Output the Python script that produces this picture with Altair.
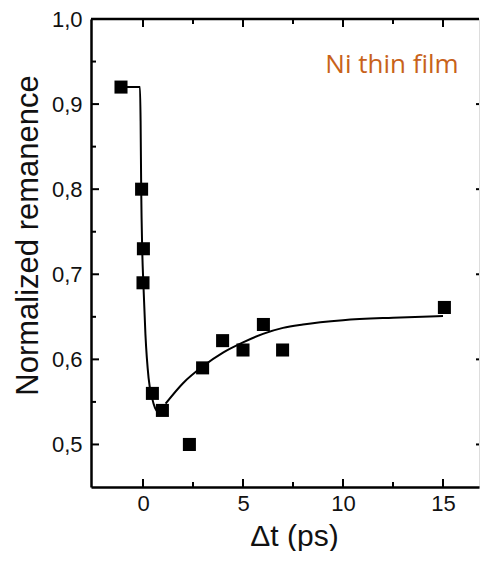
import altair as alt
import pandas as pd

# ---- data ----
pt_x = [-1.1, -0.07, 0.02, 0.0, 0.47, 0.97, 2.32, 2.98, 3.98, 5.0, 6.02, 6.98, 15.07]
pt_y = [0.92, 0.80, 0.73, 0.69, 0.56, 0.54, 0.50, 0.59, 0.622, 0.611, 0.641, 0.611, 0.661]

fit1_x = [-1.1, -0.15, -0.12, -0.09, -0.04, 0.02, 0.12, 0.28, 0.45, 0.6, 0.75, 0.85]
fit1_y = [0.92, 0.92, 0.88, 0.80, 0.73, 0.688, 0.63, 0.578, 0.555, 0.543, 0.538, 0.537]

fit2_x = [1.13, 2.0, 3.0, 4.0, 5.0, 6.0, 7.0, 8.0, 10.0, 12.5, 15.0]
fit2_y = [0.548, 0.572, 0.592, 0.608, 0.620, 0.630, 0.637, 0.641, 0.646, 0.649, 0.651]

x_domain = [-2.6, 16.8]
y_domain = [0.45, 1.0]
x_major = [0, 5, 10, 15]
x_minor = [2.5, 7.5, 12.5]
y_major = [0.5, 0.6, 0.7, 0.8, 0.9, 1.0]
y_minor = [0.55, 0.65, 0.75, 0.85, 0.95]

label_text = ["Ni thin film"]
label_x = [12.45]
label_y = [0.937]

W, H = 388, 468
TOP = 11
MAJ, MIN = 8, 5
FONT = "Liberation Sans"

xs = alt.Scale(domain=x_domain, nice=False, zero=False)
ys = alt.Scale(domain=y_domain, nice=False, zero=False)

pts = pd.DataFrame({"x": pt_x, "y": pt_y})
fit = pd.DataFrame({
    "x": fit1_x + fit2_x,
    "y": fit1_y + fit2_y,
    "seg": ["a"] * len(fit1_x) + ["b"] * len(fit2_x),
    "order": list(range(len(fit1_x) + len(fit2_x))),
})

xaxis = alt.Axis(values=x_major, format="d", ticks=False, grid=False,
                 domainColor="black", domainWidth=2.5, labelFont=FONT,
                 labelFontSize=22, labelColor="#111", labelPadding=6,
                 title="Δt (ps)", titleFont=FONT, titleFontSize=30,
                 titleFontWeight="normal", titleColor="#111",
                 titleX=203, titleY=58, titleBaseline="alphabetic",
                 titleAlign="center")
yaxis = alt.Axis(values=y_major,
                 labelExpr="replace(format(datum.value, '.1f'), '.', ',')",
                 ticks=False, grid=False, domainColor="black", domainWidth=2.5,
                 labelFont=FONT, labelFontSize=22, labelColor="#111",
                 labelPadding=9,
                 title="Normalized remanence", titleFont=FONT,
                 titleFontSize=31, titleFontWeight="normal", titleColor="#111",
                 titleX=-63, titleY=235 - 8 - TOP, titleAngle=-90,
                 titleBaseline="middle", titleAlign="center")

points = alt.Chart(pts).mark_square(size=170, color="black", opacity=1).encode(
    x=alt.X("x:Q", scale=xs, axis=xaxis),
    y=alt.Y("y:Q", scale=ys, axis=yaxis),
)

lines = alt.Chart(fit).mark_line(color="black", strokeWidth=2,
                                 interpolate="monotone").encode(
    x="x:Q", y="y:Q", detail="seg:N", order="order:Q")

text = alt.Chart(pd.DataFrame({"t": label_text, "x": label_x, "y": label_y})).mark_text(
    font="Open Sans", fontSize=26, color="#C8621A", align="center",
    baseline="alphabetic").encode(x="x:Q", y="y:Q", text="t:N")

# frame top line
top = alt.Chart(pd.DataFrame({"x": [x_domain[0]], "x2": [x_domain[1]], "y": [y_domain[1]]})).mark_rule(
    color="black", strokeWidth=2.5).encode(x="x:Q", x2="x2:Q", y="y:Q")

def xticks(vals, length, at_top):
    df = pd.DataFrame({"x": vals})
    if at_top:
        enc = dict(y=alt.value(0), y2=alt.value(length))
    else:
        enc = dict(y=alt.value(H), y2=alt.value(H - length))
    return alt.Chart(df).mark_rule(color="black", strokeWidth=2).encode(x="x:Q", **enc)

def yticks(vals, length, at_right):
    df = pd.DataFrame({"y": vals})
    if at_right:
        enc = dict(x=alt.value(W - length), x2=alt.value(W))
    else:
        enc = dict(x=alt.value(0), x2=alt.value(length))
    return alt.Chart(df).mark_rule(color="black", strokeWidth=2).encode(y="y:Q", **enc)

ticks = [
    xticks(x_major, MAJ, False), xticks(x_minor, MIN, False),
    xticks(x_major, MAJ, True), xticks(x_minor, MIN, True),
    yticks(y_major, MAJ, False), yticks(y_minor, MIN, False),
    yticks(y_major[:-1], 3, True),
]

chart = alt.layer(points, lines, text, top, *ticks).properties(
    width=W, height=H,
    autosize=alt.AutoSizeParams(type="none"),
    padding={"left": 83, "top": TOP, "right": 1, "bottom": 64},
).configure_view(stroke=None).configure(background="white")

chart.save("out.html", embed_options={"renderer": "svg", "actions": False})
